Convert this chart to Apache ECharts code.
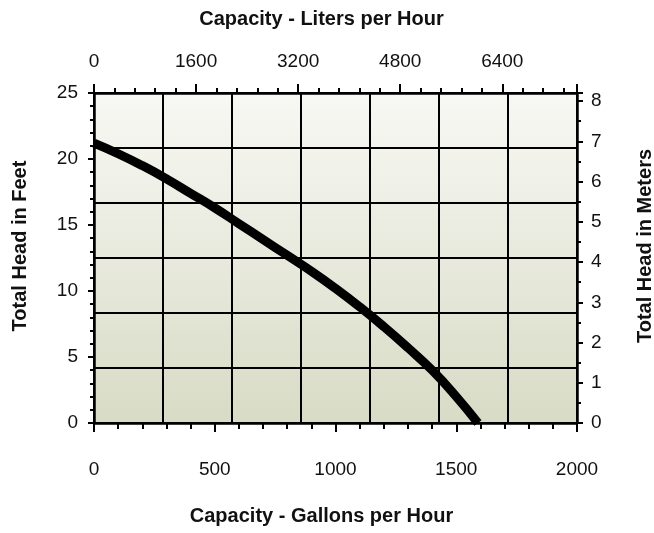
<!DOCTYPE html>
<html>
<head>
<meta charset="utf-8">
<script src="https://cdn.jsdelivr.net/npm/echarts@6/dist/echarts.min.js"></script>
<style>html,body{margin:0;padding:0;background:#fff}#c{width:654px;height:533px}</style>
</head>
<body>
<div id="c"></div>
<script>
// Data
const gallons = [0, 100, 200, 300, 400, 500, 600, 700, 800, 900, 1000, 1100, 1200, 1300, 1400, 1500, 1590];
const headFeet = [21.2, 20.4, 19.5, 18.5, 17.4, 16.3, 15.1, 13.9, 12.7, 11.5, 10.2, 8.8, 7.3, 5.7, 4.0, 2.0, 0];
const gallonTicks = [0, 500, 1000, 1500, 2000];
const literTicks = [0, 1600, 3200, 4800, 6400];
const feetTicks = [0, 5, 10, 15, 20, 25];
const meterTicks = [0, 1, 2, 3, 4, 5, 6, 7, 8];

const FONT = '"Liberation Sans", Arial, Helvetica, sans-serif';
const lbl = {color: '#111', fontSize: 19, fontFamily: FONT};
const xName = {color: '#111', fontSize: 20, fontWeight: 'bold', fontFamily: FONT, padding: [0, 28, 0, 0]};
const yName = {color: '#111', fontSize: 20, fontWeight: 'bold', fontFamily: FONT, padding: [0, 0, 0, 24]};
const axLine = {show: true, onZero: false, lineStyle: {color: '#000', width: 2.5}};
const tickStyle = {color: '#000', width: 2};

const chart = echarts.init(document.getElementById('c'));
const G = {left: 94, right: 77, top: 93, bottom: 110, containLabel: false, outerBoundsMode: 'none'};
chart.setOption({
  animation: false,
  grid: [
    Object.assign({show: true, borderWidth: 0,
      backgroundColor: {type: 'linear', x: 0, y: 0, x2: 0, y2: 1,
        colorStops: [{offset: 0, color: '#f8f8f4'}, {offset: 1, color: '#d8dbc5'}]}}, G),
    Object.assign({}, G)
  ],
  xAxis: [
    {type: 'value', gridIndex: 0, position: 'bottom', min: 0, max: 2000, interval: 500,
     name: 'Capacity - Gallons per Hour', nameLocation: 'middle', nameGap: 83, nameTextStyle: xName,
     axisLine: axLine, axisTick: {show: true, inside: false, length: 9, lineStyle: tickStyle},
     minorTick: {show: true, splitNumber: 5, length: 6, lineStyle: tickStyle},
     axisLabel: Object.assign({margin: 37, formatter: v => gallonTicks.includes(v) ? String(v) : ''}, lbl),
     splitLine: {show: false}},
    {type: 'value', gridIndex: 0, position: 'top', min: 0, max: 2000 * 3.78541, interval: 1600,
     name: 'Capacity - Liters per Hour', nameLocation: 'middle', nameGap: 64, nameTextStyle: xName,
     axisLine: axLine, axisTick: {show: true, inside: false, length: 9, lineStyle: tickStyle},
     minorTick: {show: true, splitNumber: 5, length: 5, lineStyle: tickStyle},
     axisLabel: Object.assign({margin: 22, showMaxLabel: false, formatter: v => literTicks.includes(v) ? String(v) : ''}, lbl),
     splitLine: {show: false}},
    {type: 'value', gridIndex: 1, min: 0, max: 7, interval: 1, show: true,
     axisLine: {show: false}, axisTick: {show: false}, axisLabel: {show: false},
     splitLine: {show: true, lineStyle: {color: '#000', width: 2}}}
  ],
  yAxis: [
    {type: 'value', gridIndex: 0, position: 'left', min: 0, max: 25, interval: 5,
     name: 'Total Head in Feet', nameLocation: 'middle', nameGap: 64, nameTextStyle: yName,
     axisLine: axLine, axisTick: {show: true, inside: false, length: 6, lineStyle: tickStyle},
     minorTick: {show: true, splitNumber: 5, length: 4, lineStyle: tickStyle},
     axisLabel: Object.assign({margin: 16, formatter: v => feetTicks.includes(v) ? String(v) : ''}, lbl),
     splitLine: {show: false}},
    {type: 'value', gridIndex: 0, position: 'right', min: 0, max: 8.2, interval: 1,
     name: 'Total Head in Meters', nameLocation: 'middle', nameGap: 58, nameRotate: 90, nameTextStyle: yName,
     axisLine: axLine, axisTick: {show: true, inside: false, length: 6, lineStyle: tickStyle},
     minorTick: {show: true, splitNumber: 2, length: 4, lineStyle: tickStyle},
     axisLabel: Object.assign({margin: 14, showMaxLabel: false, formatter: v => meterTicks.includes(v) ? String(v) : ''}, lbl),
     splitLine: {show: false}},
    {type: 'value', gridIndex: 1, min: 0, max: 6, interval: 1, show: true,
     axisLine: {show: false}, axisTick: {show: false}, axisLabel: {show: false},
     splitLine: {show: true, lineStyle: {color: '#000', width: 2}}}
  ],
  series: [{
    type: 'line', xAxisIndex: 0, yAxisIndex: 0, smooth: true, symbol: 'none', clip: true, z: 5,
    lineStyle: {color: '#000', width: 9},
    data: gallons.map((g, i) => [g, headFeet[i]])
  }]
});
</script>
</body>
</html>
